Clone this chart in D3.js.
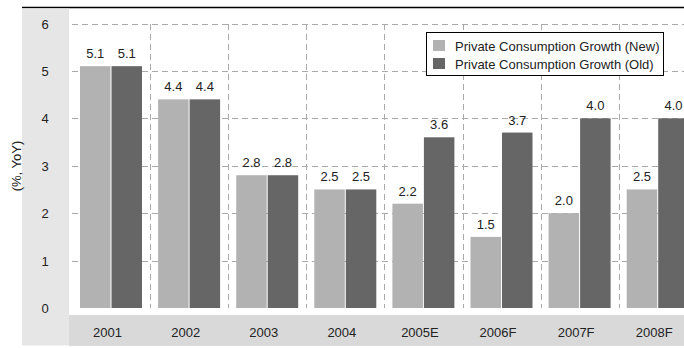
<!DOCTYPE html>
<html><head><meta charset="utf-8">
<script src="https://cdn.jsdelivr.net/npm/d3@7"></script>
<style>
html,body{margin:0;padding:0;background:#fff;overflow:hidden;}
svg{display:block;font-family:Arial,"Liberation Sans",sans-serif;}
</style></head>
<body><div id="chart"></div>
<script>
const categories = ["2001","2002","2003","2004","2005E","2006F","2007F","2008F"];
const seriesNames = ["Private Consumption Growth (New)","Private Consumption Growth (Old)"];
const newValues = [5.1,4.4,2.8,2.5,2.2,1.5,2.0,2.5];
const oldValues = [5.1,4.4,2.8,2.5,3.6,3.7,4.0,4.0];
const yTicks = [0,1,2,3,4,5,6];
const colors = ["#b2b2b2","#666666"];

const W = 684, H = 348;
const svg = d3.select("#chart").append("svg").attr("width",W).attr("height",H);

// title (cropped at the top edge in the reference)
svg.append("text").attr("x",24).attr("y",-3).attr("font-size",14).attr("font-weight","bold")
  .attr("fill","#000").text("Figure 4: Changes in Private Consumption Growth Forecasts (by year)");
svg.append("line").attr("x1",22).attr("x2",W).attr("y1",7.5).attr("y2",7.5).attr("stroke","#000").attr("stroke-width",1.5);

// panels
svg.append("rect").attr("x",22).attr("y",8.5).attr("width",47).attr("height",337).attr("fill","#e6e6e6");
svg.append("rect").attr("x",69).attr("y",315).attr("width",W-69).attr("height",31).attr("fill","#d9d9d9");

const x0 = d3.scaleBand().domain(categories).range([72, 72+78.1*8]).paddingInner(0).paddingOuter(0);
const y = d3.scaleLinear().domain([0,6]).range([308,23.5]);
const x1 = d3.scaleBand().domain([0,1]).range([0,62]).paddingInner(0.032);

const grid = svg.append("g");
grid.selectAll("line.h").data(yTicks.filter(d=>d>0)).join("line")
  .attr("x1",72).attr("x2",W).attr("y1",d=>Math.round(y(d))+0.5).attr("y2",d=>Math.round(y(d))+0.5)
  .attr("stroke","#aaaaaa").attr("stroke-dasharray","6,4");
grid.selectAll("line.v").data(categories.slice(1)).join("line")
  .attr("x1",d=>Math.round(x0(d))+0.5).attr("x2",d=>Math.round(x0(d))+0.5)
  .attr("y1",Math.round(y(6))).attr("y2",y(0))
  .attr("stroke","#aaaaaa").attr("stroke-dasharray","6,4");

// y axis labels
svg.append("g").selectAll("text").data(yTicks).join("text")
  .attr("x",45).attr("y",d=>y(d)+5).attr("text-anchor","middle").attr("font-size",13).attr("fill","#222")
  .text(d=>d);
svg.append("text").attr("transform","translate(21,166) rotate(-90)").attr("text-anchor","middle")
  .attr("font-size",13).attr("fill","#222").text("(%, YoY)");

// bars
const data = categories.map((c,i)=>({c, vals:[newValues[i],oldValues[i]]}));
const groups = svg.append("g").selectAll("g").data(data).join("g")
  .attr("transform",d=>`translate(${x0(d.c)+8},0)`);
groups.selectAll("rect").data(d=>d.vals.map((v,k)=>({v,k}))).join("rect")
  .attr("x",d=>x1(d.k)).attr("width",x1.bandwidth())
  .attr("y",d=>y(d.v)).attr("height",d=>y(0)-y(d.v)).attr("fill",d=>colors[d.k]);
groups.selectAll("text").data(d=>d.vals.map((v,k)=>({v,k}))).join("text")
  .attr("x",d=>x1(d.k)+x1.bandwidth()/2).attr("y",d=>y(d.v)-8)
  .attr("text-anchor","middle").attr("font-size",13).attr("fill","#222")
  .text(d=>d.v.toFixed(1));

// x labels
svg.append("g").selectAll("text").data(categories).join("text")
  .attr("x",d=>x0(d)+x0.bandwidth()/2-3.5).attr("y",337).attr("text-anchor","middle")
  .attr("font-size",13).attr("fill","#222").text(d=>d);

// legend
const lg = svg.append("g");
lg.append("rect").attr("x",426.5).attr("y",32.5).attr("width",237).attr("height",43)
  .attr("fill","#fff").attr("stroke","#000");
seriesNames.forEach((n,i)=>{
  lg.append("rect").attr("x",433).attr("y",40+i*18).attr("width",12).attr("height",11).attr("fill",colors[i]);
  lg.append("text").attr("x",455).attr("y",51+i*18).attr("font-size",13).attr("fill","#222").text(n);
});
</script></body></html>
